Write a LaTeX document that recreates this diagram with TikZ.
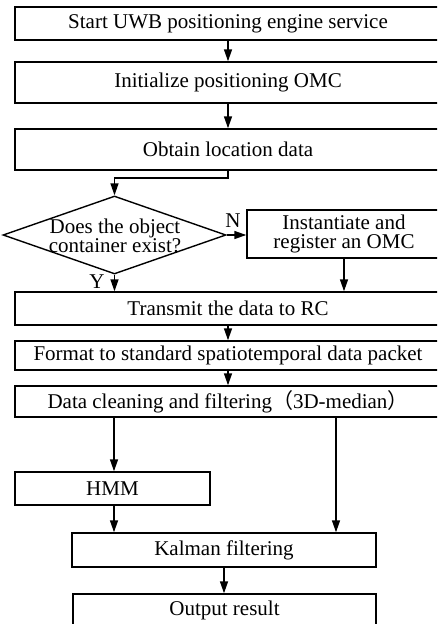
\documentclass[tikz,border=0pt]{standalone}
\usepackage{fontspec}
\setmainfont{Liberation Serif}
\newfontfamily\cjk{Noto Sans CJK SC}
\usetikzlibrary{shapes.geometric,arrows.meta}
\begin{document}
\begin{tikzpicture}[x=1pt,y=-1pt,line width=1.4pt,
  txt/.style={font=\fontsize{21}{19}\selectfont},
  box/.style={draw,rectangle,inner sep=0pt,align=center,txt},
  arr/.style={-{Triangle[length=12pt,width=8pt]}},
  lbl/.style={inner sep=0pt,txt}]
\useasboundingbox (0,0) rectangle (437,624);
\clip (0,0) rectangle (437,624);

% main column of process boxes
\node[box,minimum width=426pt,minimum height=33pt] (b1) at (228,23.5) {Start UWB positioning engine service};
\node[box,minimum width=426pt,minimum height=41pt] (b2) at (228,82.5) {Initialize positioning OMC};
\node[box,minimum width=426pt,minimum height=41pt] (b3) at (228,149.5) {Obtain location data};

% decision
\node[draw,diamond,inner sep=0pt,minimum width=223pt,minimum height=78pt] (dec) at (114.5,235) {};
\node[lbl,align=center] (dect) at (115,236) {Does the object\\container exist?};
\node[box,minimum width=194pt,minimum height=48pt] (b4) at (344,234) {Instantiate and\\register an OMC};

\node[box,minimum width=426pt,minimum height=33pt] (b5) at (228,308.5) {Transmit the data to RC};
\node[box,minimum width=426pt,minimum height=29pt] (b6) at (228,355.5) {Format to standard spatiotemporal data packet};
\node[box,minimum width=426pt,minimum height=31pt] (b7) at (228,401.5) {Data cleaning and filtering{\cjk （}3D-median{\cjk ）}};

\node[box,minimum width=195pt,minimum height=33pt] (hmm) at (112.5,488.5) {HMM};
\node[box,minimum width=304pt,minimum height=34pt] (kal) at (224,550) {Kalman filtering};
\node[box,minimum width=303pt,minimum height=32pt] (out) at (224.5,610) {Output result};

% branch labels
\node[lbl] (ln) at (233,221) {N};
\node[lbl] (ly) at (97,282) {Y};

% connectors
\coordinate (j1) at (114.5,178);
\coordinate (cL) at (114,0);
\coordinate (cR) at (336,0);
\draw[arr] (b1.south) -- (b2.north);
\draw[arr] (b2.south) -- (b3.north);
\draw[arr] (b3.south) -- (b3.south |- j1) -- (j1) -- (dec.north);
\draw[arr] (dec.east) -- (dec.east -| b4.west);
\draw[arr] (b4.south) -- (b4.south |- b5.north);
\draw[arr] (dec.south) -- (dec.south |- b5.north);
\draw[arr] (b5.south) -- (b6.north);
\draw[arr] (b6.south) -- (b7.north);
\draw[arr] (b7.south -| cL) -- (hmm.north -| cL);
\draw[arr] (b7.south -| cR) -- (kal.north -| cR);
\draw[arr] (hmm.south -| cL) -- (kal.north -| cL);
\draw[arr] (kal.south) -- (kal.south |- out.north);
\end{tikzpicture}
\end{document}
